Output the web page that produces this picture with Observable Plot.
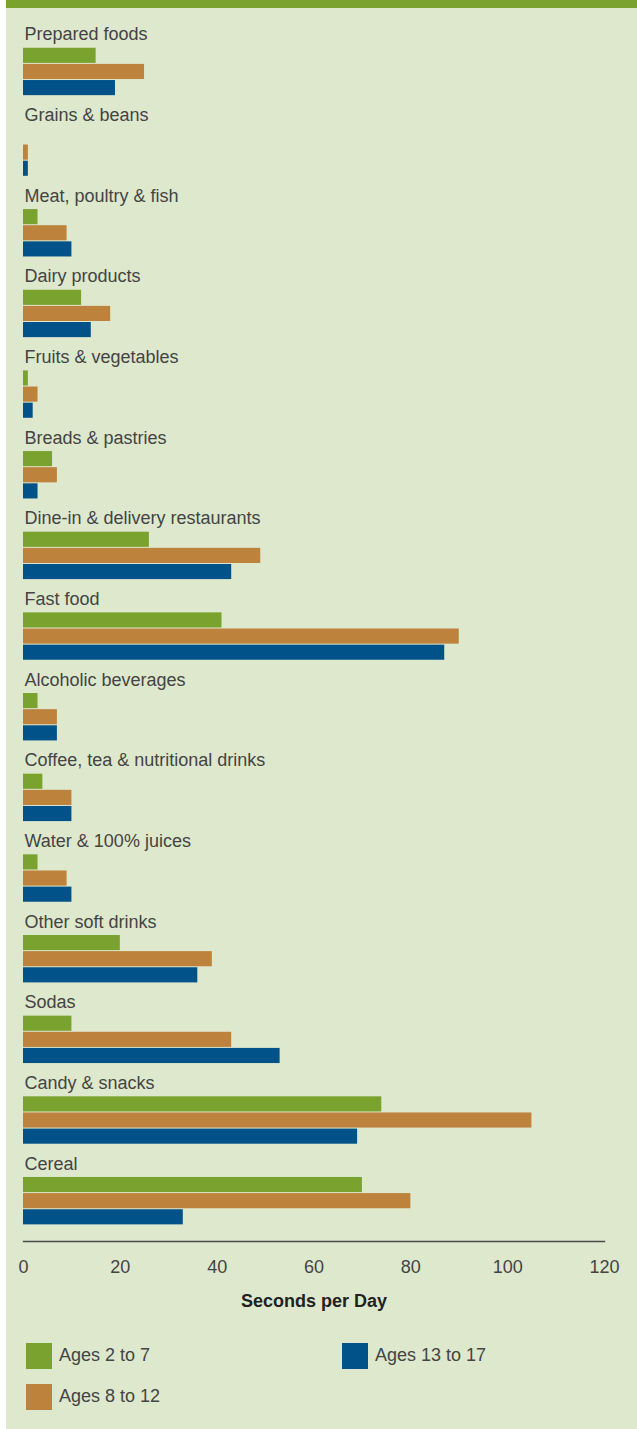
<!DOCTYPE html>
<html>
<head>
<meta charset="utf-8">
<script src="https://cdn.jsdelivr.net/npm/d3@7"></script>
<script src="https://cdn.jsdelivr.net/npm/@observablehq/plot@0.6"></script>
<style>
  html, body { margin: 0; padding: 0; background: #ffffff; }
  #wrap { position: relative; width: 637px; height: 1429px; overflow: hidden;
          background: linear-gradient(to right, #ffffff 6px, #dee8cd 6px); }
  #topbar { position: absolute; left: 6px; top: 0; width: 631px; height: 8px; background: #7aa22f; }
  #chart { position: absolute; left: 0; top: 0; }
  #chart svg [aria-label="x-axis label"] { font-weight: bold; fill: #222; }
  #legend { position: absolute; left: 26px; top: 1342.5px; width: 640px; display: flex; flex-wrap: wrap;
            row-gap: 15.3px; font-family: "Liberation Sans", Arial, sans-serif; font-size: 18px; color: #444; }
  .item { width: 316px; height: 26px; display: flex; align-items: center; }
  .sw { width: 26px; height: 26px; margin-right: 7px; flex: none; }
</style>
</head>
<body>
<div id="wrap">
  <div id="topbar"></div>
  <div id="chart"></div>
  <div id="legend"></div>
</div>
<script>
const categories = [
  "Prepared foods", "Grains & beans", "Meat, poultry & fish", "Dairy products",
  "Fruits & vegetables", "Breads & pastries", "Dine-in & delivery restaurants",
  "Fast food", "Alcoholic beverages", "Coffee, tea & nutritional drinks",
  "Water & 100% juices", "Other soft drinks", "Sodas", "Candy & snacks", "Cereal"
];
const series = ["Ages 2 to 7", "Ages 8 to 12", "Ages 13 to 17"];
const colors = ["#7aa22f", "#bd823b", "#005288"];
const ages2to7   = [15, 0, 3, 12, 1, 6, 26, 41, 3, 4, 3, 20, 10, 74, 70];
const ages8to12  = [25, 1, 9, 18, 3, 7, 49, 90, 7, 10, 9, 39, 43, 105, 80];
const ages13to17 = [19, 1, 10, 14, 2, 3, 43, 87, 7, 10, 10, 36, 53, 69, 33];
const xTicks = [0, 20, 40, 60, 80, 100, 120];

const valuesBySeries = [ages2to7, ages8to12, ages13to17];
const data = [];
categories.forEach((c, i) => {
  series.forEach((s, j) => data.push({category: c, series: s, value: valuesBySeries[j][i]}));
});

// band slots: two label rows, then one row per series; one trailing slot for the axis line
const yDomain = [];
categories.forEach(c => {
  yDomain.push(c + "|l1", c + "|l2");
  series.forEach(s => yDomain.push(c + "|" + s));
});
yDomain.push("end");

const chart = Plot.plot({
  width: 637,
  height: 1316,
  marginTop: 15,
  marginBottom: 75,
  marginLeft: 23,
  marginRight: 33,
  style: {fontFamily: "'Liberation Sans', Arial, sans-serif", fontSize: "18px", background: "transparent", color: "#444"},
  x: {domain: [0, 120]},
  y: {type: "band", domain: yDomain, padding: 0, round: false, axis: null},
  color: {domain: series, range: colors},
  marks: [
    Plot.frame({anchor: "bottom", stroke: "#4a4a4a", strokeWidth: 1.3}),
    Plot.barX(data, {
      x: "value",
      y: d => d.category + "|" + d.series,
      fill: "series",
      insetTop: 0.5,
      insetBottom: 0.5
    }),
    Plot.text(categories, {
      x: () => 0,
      y: d => d + "|l2",
      text: d => d,
      textAnchor: "start",
      dx: 1,
      dy: -5,
      fontSize: 18,
      fill: "#444"
    }),
    Plot.axisX({
      ticks: xTicks,
      tickSize: 0,
      tickPadding: 18.5,
      fontSize: 18,
      fill: "#444",
      label: "Seconds per Day",
      labelAnchor: "center",
      labelArrow: "none",
      labelOffset: 65
    })
  ]
});
document.getElementById("chart").appendChild(chart);

const legend = document.getElementById("legend");
[0, 2, 1].forEach(j => {
  const item = document.createElement("div");
  item.className = "item";
  const sw = document.createElement("div");
  sw.className = "sw";
  sw.style.background = colors[j];
  const label = document.createElement("span");
  label.textContent = series[j];
  item.appendChild(sw);
  item.appendChild(label);
  legend.appendChild(item);
});
</script>
</body>
</html>
